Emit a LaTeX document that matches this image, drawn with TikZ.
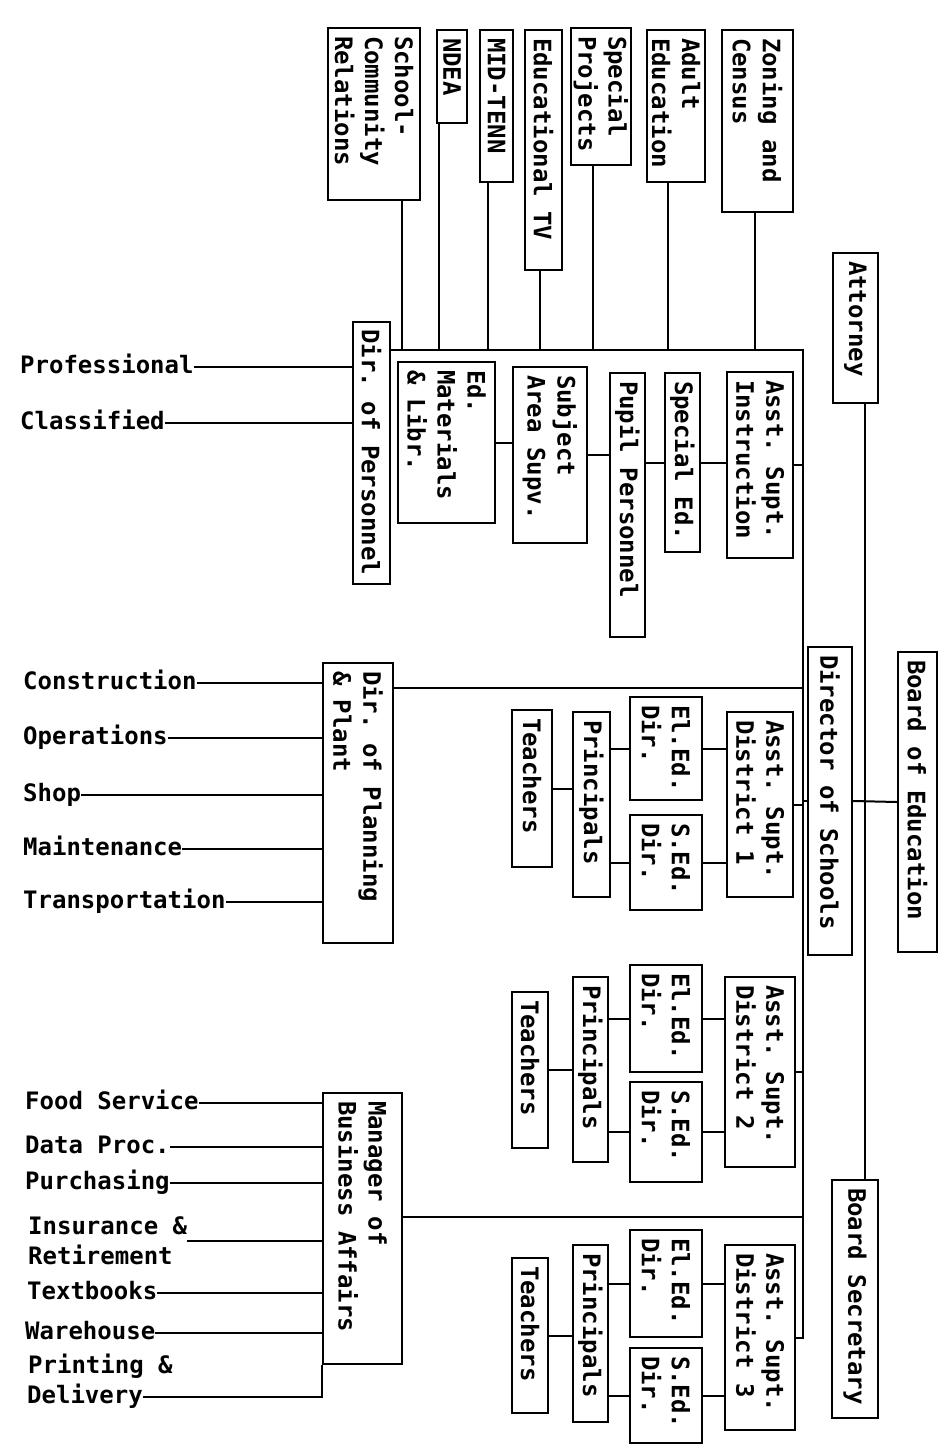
\documentclass[tikz,border=0pt]{standalone}
\usepackage{fontspec}
\setmonofont{DejaVu Sans Mono}
\usepackage{graphicx}
\usetikzlibrary{positioning}

\tikzset{
  unit/.style={draw, line width=2pt, inner xsep=3pt, inner ysep=8pt, font=\ttfamily\bfseries\fontsize{24}{30}\selectfont},
  tag/.style={anchor=west, inner sep=0pt, font=\ttfamily\bfseries\fontsize{24}{30}\selectfont},
  item/.style={tag, text height=17pt, text depth=5pt},
  link/.style={line width=2pt}
}
\newcommand{\vlines}[2]{\rotatebox{-90}{\parbox{#1pt}{\raggedright #2}}}

\begin{document}
\begin{tikzpicture}[x=1pt, y=-1pt]
        \useasboundingbox (0,0) rectangle (944,1454);

        % Board level
        \node[unit, minimum width=45pt] (attorney) at (855.5,328) {\vlines{134}{Attorney}};
        \node[unit, minimum width=39pt] (board) at (917.5,802) {\vlines{284}{Board of Education}};
        \node[unit, minimum width=46pt] (secretary) at (855,1299) {\vlines{222}{Board Secretary}};
        \node[unit, minimum width=44pt] (director) at (830,801) {\vlines{292}{Director of Schools}};

        % Staff units
        \node[unit, minimum width=71pt] (zoning) at (757.5,121) {\vlines{166}{Zoning and\\Census}};
        \node[unit, minimum width=58pt] (adult) at (676,106) {\vlines{136}{Adult\\Education}};
        \node[unit, minimum width=58pt] (special) at (601,96.5) {\vlines{121}{Special\\Projects}};
        \node[unit, minimum width=37pt] (edtv) at (543.5,150) {\vlines{224}{Educational TV}};
        \node[unit, minimum width=33pt] (midtenn) at (496.5,106) {\vlines{136}{MID-TENN}};
        \node[unit, minimum width=30pt] (ndea) at (452,76.5) {\vlines{77}{NDEA}};
        \node[unit, minimum width=92pt] (school) at (374,114) {\vlines{156}{School-\\Community\\Relations}};

        % Personnel
        \node[unit, minimum width=37pt] (personnel) at (371.5,452.5) {\vlines{246}{Dir. of Personnel}};
        \node[item] (professional) at (20,367) {Professional};
        \node[item] (classified) at (20,423) {Classified};

        % Instruction
        \node[unit, minimum width=66pt] (asstinst) at (760,465) {\vlines{170}{Asst. Supt.\\Instruction}};
        \node[unit, minimum width=35pt] (speced) at (682.5,462.5) {\vlines{163}{Special Ed.}};
        \node[unit, minimum width=35pt] (pupil) at (627.5,505) {\vlines{248}{Pupil Personnel}};
        \node[unit, minimum width=74pt] (subject) at (550,455) {\vlines{160}{Subject\\Area Supv.}};
        \node[unit, minimum width=97pt] (edmat) at (446.5,442.5) {\vlines{145}{Ed.\\Materials\\\& Libr.}};

        % Planning and plant
        \node[unit, minimum width=70pt] (planning) at (358,803) {\vlines{264}{Dir. of Planning\\\& Plant}};
        \node[item] (construction) at (23,683) {Construction};
        \node[item] (operations) at (23,738) {Operations};
        \node[item] (shop) at (23,795) {Shop};
        \node[item] (maintenance) at (23,849) {Maintenance};
        \node[item] (transportation) at (23,902) {Transportation};

        % Business affairs
        \node[unit, minimum width=79pt] (manager) at (362.5,1228.5) {\vlines{255}{Manager of\\Business Affairs}};
        \node[item] (food) at (25,1103) {Food Service};
        \node[item] (data) at (25,1147) {Data Proc.};
        \node[item] (purchasing) at (25,1183) {Purchasing};
        \node[tag, align=left] (insurance) at (28,1241) {Insurance \&\\Retirement};
        \node[item] (textbooks) at (27,1293) {Textbooks};
        \node[item] (warehouse) at (25,1333) {Warehouse};
        \node[item] (printing) at (28,1367) {Printing \&};
        \node[item] (delivery) at (27,1397) {Delivery};

        % District 1
        \node[unit, minimum width=66pt] (asst1) at (760,804.5) {\vlines{169}{Asst. Supt.\\District 1}};
        \node[unit, minimum width=72pt] (elem1) at (666,748.5) {\vlines{87}{El.Ed.\\Dir.}};
        \node[unit, minimum width=72pt] (sec1) at (666,862.5) {\vlines{79}{S.Ed.\\Dir.}};
        \node[unit, minimum width=37pt] (prin1) at (591.5,804.5) {\vlines{169}{Principals}};
        \node[unit, minimum width=40pt] (teach1) at (532,788.5) {\vlines{141}{Teachers}};

        % District 2
        \node[unit, minimum width=70pt] (asst2) at (760,1072) {\vlines{174}{Asst. Supt.\\District 2}};
        \node[unit, minimum width=72pt] (elem2) at (666,1018.5) {\vlines{91}{El.Ed.\\Dir.}};
        \node[unit, minimum width=72pt] (sec2) at (666,1132) {\vlines{84}{S.Ed.\\Dir.}};
        \node[unit, minimum width=35pt] (prin2) at (590.5,1069.5) {\vlines{169}{Principals}};
        \node[unit, minimum width=36pt] (teach2) at (530,1070) {\vlines{140}{Teachers}};

        % District 3
        \node[unit, minimum width=70pt] (asst3) at (760,1337.5) {\vlines{169}{Asst. Supt.\\District 3}};
        \node[unit, minimum width=72pt] (elem3) at (666,1283.5) {\vlines{91}{El.Ed.\\Dir.}};
        \node[unit, minimum width=72pt] (sec3) at (666,1395.5) {\vlines{79}{S.Ed.\\Dir.}};
        \node[unit, minimum width=35pt] (prin3) at (590.5,1333.5) {\vlines{161}{Principals}};
        \node[unit, minimum width=36pt] (teach3) at (530,1335.5) {\vlines{139}{Teachers}};

        % Main lines
        \coordinate (top) at (803,350);
        \draw[link] (personnel.east |- top) -- (top) -- (top |- asst3.east) -- (asst3.east);
        \draw[link] (attorney.south -| 865,0) -- (secretary.north -| 865,0);
        \draw[link] (board.west) -- (director.east);
        \draw[link] (director.west) -- (director.west -| top);

        % Staff lines
        \draw[link] (zoning.south -| 755,0) -- (755,0 |- top);
        \draw[link] (adult.south -| 668,0) -- (668,0 |- top);
        \draw[link] (special.south -| 593,0) -- (593,0 |- top);
        \draw[link] (edtv.south -| 540,0) -- (540,0 |- top);
        \draw[link] (midtenn.south -| 488,0) -- (488,0 |- top);
        \draw[link] (ndea.south -| 439,0) -- (439,0 |- top);
        \draw[link] (school.south -| 402,0) -- (402,0 |- top);

        % Personnel lines
        \draw[link] (professional.east) -- (professional.east -| personnel.west);
        \draw[link] (classified.east) -- (classified.east -| personnel.west);

        % Instruction lines
        \draw[link] (asstinst.east) -- (asstinst.east -| top);
        \draw[link] (speced.east) -- (speced.east -| asstinst.west);
        \draw[link] (speced.west) -- (speced.west -| pupil.east);
        \draw[link] (subject.east) -- (subject.east -| pupil.west);
        \draw[link] (edmat.east) -- (edmat.east -| subject.west);

        % Planning lines
        \draw[link] (planning.east |- 0,688) -- (top |- 0,688);
        \draw[link] (construction.east) -- (construction.east -| planning.west);
        \draw[link] (operations.east) -- (operations.east -| planning.west);
        \draw[link] (shop.east) -- (shop.east -| planning.west);
        \draw[link] (maintenance.east) -- (maintenance.east -| planning.west);
        \draw[link] (transportation.east) -- (transportation.east -| planning.west);

        % Business lines
        \draw[link] (manager.east |- 0,1217) -- (top |- 0,1217);
        \draw[link] (food.east) -- (food.east -| manager.west);
        \draw[link] (data.east) -- (data.east -| manager.west);
        \draw[link] (purchasing.east) -- (purchasing.east -| manager.west);
        \draw[link] (insurance.east) -- (insurance.east -| manager.west);
        \draw[link] (textbooks.east) -- (textbooks.east -| manager.west);
        \draw[link] (warehouse.east) -- (warehouse.east -| manager.west);
        \draw[link] (delivery.east) -- (delivery.east -| manager.west) -- (manager.south west);

        % District lines
        \draw[link] (asst1.east) -- (asst1.east -| top);
        \draw[link] (elem1.east) -- (elem1.east -| asst1.west);
        \draw[link] (sec1.east) -- (sec1.east -| asst1.west);
        \draw[link] (elem1.west) -- (elem1.west -| prin1.east);
        \draw[link] (sec1.west) -- (sec1.west -| prin1.east);
        \draw[link] (teach1.east) -- (teach1.east -| prin1.west);

        \draw[link] (asst2.east) -- (asst2.east -| top);
        \draw[link] (elem2.east) -- (elem2.east -| asst2.west);
        \draw[link] (sec2.east) -- (sec2.east -| asst2.west);
        \draw[link] (elem2.west) -- (elem2.west -| prin2.east);
        \draw[link] (sec2.west) -- (sec2.west -| prin2.east);
        \draw[link] (teach2.east) -- (teach2.east -| prin2.west);

        \draw[link] (elem3.east) -- (elem3.east -| asst3.west);
        \draw[link] (sec3.east) -- (sec3.east -| asst3.west);
        \draw[link] (elem3.west) -- (elem3.west -| prin3.east);
        \draw[link] (sec3.west) -- (sec3.west -| prin3.east);
        \draw[link] (teach3.east) -- (teach3.east -| prin3.west);
\end{tikzpicture}
\end{document}
